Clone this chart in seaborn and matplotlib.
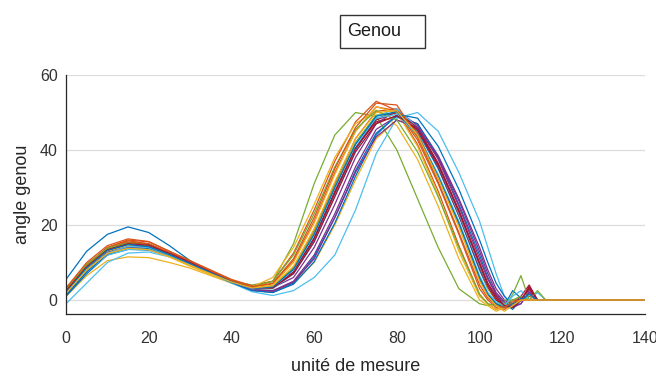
import numpy as np
import pandas as pd
import matplotlib
matplotlib.use("Agg")
import matplotlib.pyplot as plt
import seaborn as sns
from matplotlib.patches import Rectangle

# sample positions (unité de mesure)
x_values = [0, 5, 10, 15, 20, 25, 30, 35, 40, 45, 50, 55, 60, 65, 70, 75, 80, 85, 90, 95, 100,
            102, 104, 106, 108, 110, 112, 114, 116, 140]

# knee angle curves (angle genou)
c01 = [5.5,13,17.5,19.5,18,14.5,10.5,7.5,5,3, 3.4,7.2,16,28,40,48.3,50.4,45,35,22.5,8, 3,0,-1.5,2.5,0.5,0,0,0, 0]
c02 = [2.5,9,14,15.8,15,12.5,10,7.5,5,3.2, 3.6,8.5,18.5,31,43,50.3,51,44.5,33,20,5.5, 1.5,-1,-2,-1.5,0,1,0,0, 0]
c03 = [1,6.5,10.5,11.5,11.3,10,8.5,6.5,4.5,3, 2.5,4.5,10,20,32,43,48,46,36,23,9, 3,0,-2,-2,0,0,0,0, 0]
c04 = [1.5,8,12.5,14,13.8,12,9.8,7.3,4.8,2.8, 2.5,5,12,23,35.5,45.5,49,47,38.5,27,14, 8,3,0,-1.5,-1,3.5,0,0, 0]
c05 = [3,9.5,13.5,14.5,14,12,9.5,7,5,4, 5,15,31,44,50,49,40,27,14,3,-1, -1.5,-1,0,0,0,0,0,0, 0]
c06 = [-1,4.5,10,12.5,12.8,11.5,9.5,7,4.5,2.2, 1.2,2.5,6,12,24,39,48.5,50,45,34,21, 14,7,1,-1,0,0,0,0, 0]
c07 = [2,8.5,13,15,14.5,12.5,10,7.5,5,3.2, 3.2,7.5,16.5,29,40.5,47.5,49,45.5,35.5,22.5,8.5, 3.5,0,-1.5,-1,1,4,0,0, 0]
c08 = [1,7,12,13.5,13.3,11.8,9.6,7.2,4.8,2.6, 2,4.5,11.5,22,34.5,44.5,49,47,38,25.5,12, 6,1.5,-1,-2.5,0,2,0,0, 0]
c09 = [3,9.5,14,16,15.5,13,10.5,8,5.5,3.8, 5,12.5,24,37,47.5,53,50.5,41.5,29,14.5,1.5, -1,-2.5,-1.5,0,0,0,0,0, 0]
c10 = [2,8,12.5,14,13.5,11.5,9,6.8,4.8,3.5, 6,14,25.5,38,47,50.6,46.5,37.5,25,11,0, -1.5,-3,-2,-1,0,0,0,0, 0]
c11 = [1.8,8.2,12.8,14.5,14.2,12.2,9.8,7.4,5,3, 3.3,6,14,25.5,38,47,50.6,46.5,37.5,25,11, 5.5,1.5,-1,-1.5,0,2.5,0,0, 0]
c12 = [2.5,9,13.5,15,14.5,12.3,9.8,7.3,4.8,3, 3.6,8.5,18,30.5,42,49.3,50,43.5,32.5,20,5.5, 1.5,-1,-2,1.5,6.5,0,0,0, 0]
c13 = [1.5,7.5,12,13.5,13.5,12,9.8,7.5,5,3, 3,7,15.5,28,40.5,49,51,46,36,23,9, 4,0.5,-1,-1,0,0,2,0, 0]
c14 = [2.2,8.8,13.5,15.3,14.8,12.6,10.2,7.6,5.1,3.1, 3.2,7.5,16.5,28.5,40.5,48,50,46,36.5,24,10, 4.5,1,-1.5,-1.5,0,3,0,0, 0]
c15 = [1.2,7.5,12.3,14,13.8,12,9.7,7.2,4.7,2.5, 2,4.2,10.2,20.5,33,44,49.5,48.5,41,29.5,16, 10,4.5,1,-1.5,0.5,0,0,0, 0]
c16 = [2.8,9.2,13.8,15.5,15,12.6,10,7.6,5.2,3.4, 4.3,10.5,21,34,45,51.5,50.5,42.7,31,17.5,3, 0,-2,-2.5,-1,0,0,0,0, 0]
c17 = [2,8.5,13,14.5,14,12,9.5,7.2,5,3.3, 4,10,20.5,33.5,45,51.5,50,41,28,13,1, -1,-2.5,-2,-1,0,0,0,0, 0]
c18 = [1.6,8,12.6,14.2,14,12.2,10,7.5,4.9,2.8, 2.3,4.8,11,22,34,43.5,48,46,38,26.5,13, 7,2,-0.5,-2,-1,2,0,0, 0]
c19 = [3,9.5,13.8,15.2,14.6,12.3,9.8,7.4,5,3.5, 5,12,23,35.5,45.5,50.5,48,39.5,27.5,14,1.5, -1,-1.5,-1,0,1,0,2.5,0, 0]
c20 = [1.8,8,12.5,14.3,14,12,9.8,7.3,4.9,3, 3.4,8,17.5,30,41.5,48.5,49.5,44,33.5,21,6.5, 2,-0.5,-1.5,1,2.5,0,0,0, 0]
c21 = [2.4,8.8,13.3,15,14.6,12.4,10,7.5,5,3.2, 3.3,7,15.5,27.5,39.5,47,49.2,45.5,36,23.5,9.5, 4,0.5,-1.5,-2,0,3.5,0,0, 0]
c22 = [2,8.6,13.2,14.8,14.2,12.1,9.7,7.3,4.9,3.1, 3.5,8.2,17.5,30,41.5,49,50.2,44,33,20.5,6, 1.5,-1,-2,-1,0,1.5,0,0, 0]
c23 = [3.2,10,14.5,16.3,15.6,13,10.4,7.8,5.3,3.5, 4.5,11,22,35,46,52.5,52,43.5,31.5,18,4, 0.5,-1.5,-2,-0.5,0,0,0,0, 0]
c24 = [1.8,8,12.4,13.8,13.4,11.5,9.2,7,4.8,3.2, 3.8,9,19,31.5,43,50,50.5,44,32.5,19.5,5, 1,-1.5,-3,-1.5,0,0,0,0, 0]

curves = [c01, c02, c03, c04, c05, c06, c07, c08, c09, c10, c11, c12,
          c13, c14, c15, c16, c17, c18, c19, c20, c21, c22, c23, c24]

matlab_colors = ["#0072BD", "#D95319", "#EDB120", "#7E2F8E", "#77AC30", "#4DBEEE", "#A2142F"]

frames = []
for i, vals in enumerate(curves):
    frames.append(pd.DataFrame({"x": x_values, "angle": vals, "curve": f"c{i+1:02d}"}))
df = pd.concat(frames, ignore_index=True)
palette = [matlab_colors[i % 7] for i in range(len(curves))]

sns.set_theme(style="white")
plt.rcParams["font.family"] = ["Liberation Sans Narrow", "Liberation Sans", "DejaVu Sans"]

fig = plt.figure(figsize=(6.56, 3.80), dpi=100)
ax = fig.add_axes([66/656, 1-314/380, (645-66)/656, (314-75)/380])

sns.lineplot(data=df, x="x", y="angle", hue="curve", palette=palette, legend=False,
             linewidth=0.9, estimator=None, sort=False, ax=ax)

ax.set_xlim(0, 140)
ax.set_ylim(-3.73, 60)
ax.set_xticks([0, 20, 40, 60, 80, 100, 120, 140])
ax.set_yticks([0, 20, 40, 60])
ax.yaxis.grid(True, color="#dcdcdc", linewidth=0.9)
ax.xaxis.grid(False)
ax.set_axisbelow(True)
for s in ["top", "right"]:
    ax.spines[s].set_visible(False)
for s in ["left", "bottom"]:
    ax.spines[s].set_color("#262626")
    ax.spines[s].set_linewidth(0.9)
ax.tick_params(direction="in", length=4, width=0.9, colors="#262626",
               labelcolor="#333333", labelsize=11.5, pad=6)
ax.tick_params(axis="x", pad=12)
ax.set_xlabel("unité de mesure", fontsize=13, color="#262626", labelpad=9)
ax.set_ylabel("angle genou", fontsize=13, color="#262626", labelpad=6)

# boxed title
fig.patches.append(Rectangle((340/656, 1-48/380), 85/656, 33/380, transform=fig.transFigure,
                             fill=False, edgecolor="#333333", linewidth=1.0))
fig.text(347/656, 1-32/380, "Genou", fontsize=13, color="#1a1a1a", ha="left", va="center")

fig.savefig("out.png", dpi=100)
